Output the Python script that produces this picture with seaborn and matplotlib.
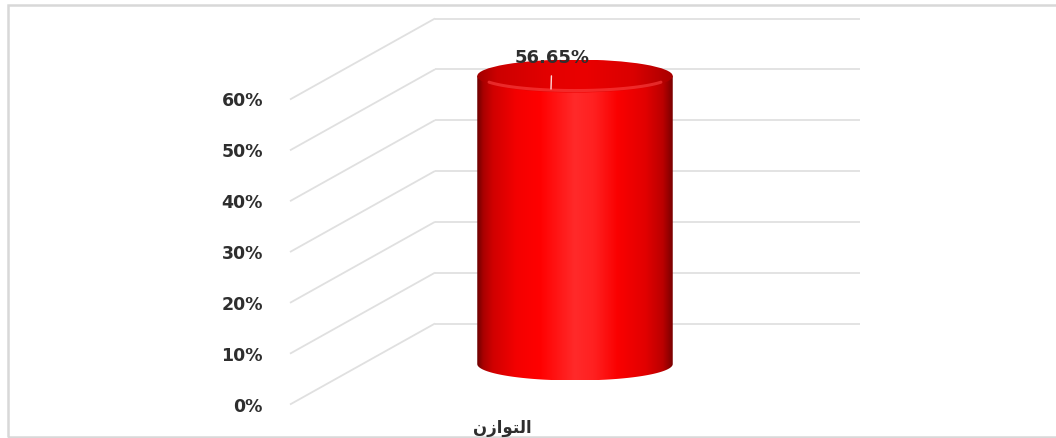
import numpy as np
import matplotlib
matplotlib.use("Agg")
import matplotlib.pyplot as plt
import matplotlib.transforms as mtransforms
from matplotlib.patches import PathPatch, Ellipse, Rectangle
from matplotlib.path import Path
from matplotlib.colors import LinearSegmentedColormap
import seaborn as sns

# ---------------- data ----------------
categories = ["التوازن"]
values = [0.5665]
tick_values = [0.0, 0.1, 0.2, 0.3, 0.4, 0.5, 0.6]
tick_labels = ["0%", "10%", "20%", "30%", "40%", "50%", "60%"]


# minimal Arabic shaping so matplotlib shows the joined, right-to-left word
_FORMS = {  # isolated, final, initial, medial
    "ا": ("\uFE8D", "\uFE8E", None, None),
    "ل": ("\uFEDD", "\uFEDE", "\uFEDF", "\uFEE0"),
    "ت": ("\uFE95", "\uFE96", "\uFE97", "\uFE98"),
    "و": ("\uFEED", "\uFEEE", None, None),
    "ز": ("\uFEAF", "\uFEB0", None, None),
    "ن": ("\uFEE5", "\uFEE6", "\uFEE7", "\uFEE8"),
}


def shape_arabic(s):
    out = []
    for i, ch in enumerate(s):
        if ch not in _FORMS:
            out.append(ch)
            continue
        prev = s[i - 1] if i > 0 else None
        nxt = s[i + 1] if i + 1 < len(s) else None
        pj = prev in _FORMS and _FORMS[prev][2] is not None
        nj = _FORMS[ch][2] is not None and nxt in _FORMS
        iso, fin, ini, med = _FORMS[ch]
        if pj and nj:
            out.append(med)
        elif pj:
            out.append(fin)
        elif nj:
            out.append(ini)
        else:
            out.append(iso)
    return "".join(out[::-1])


# ---------------- style ----------------
sns.set_style("white")
plt.rcParams["font.family"] = ["DejaVu Sans"]

W, H = 1056, 438
fig = plt.figure(figsize=(W / 100, H / 100), dpi=100)
fig.patch.set_facecolor("white")

# axes = middle depth plane of the 3-D chart (extended below 0 for the cylinder base)
ax_left, ax_right, y0_px, y60_px, ax_bottom_px = 362.5, 787.5, 364.0, 59.0, 430.0
px_x = (ax_right - ax_left) / 1.0
px_y = (y0_px - y60_px) / 0.6
ymin = -(ax_bottom_px - y0_px) / px_y
ax = fig.add_axes([ax_left / W, (H - ax_bottom_px) / H, (ax_right - ax_left) / W,
                   (ax_bottom_px - y60_px) / H])
ax.set_facecolor("none")

sns.barplot(x=categories, y=values, ax=ax, width=0.46, color="#ff0000", saturation=1)
ax.set_xlim(-0.5, 0.5)
ax.set_ylim(ymin, 0.6)
for s in ax.spines.values():
    s.set_visible(False)
ax.set_xlabel("")
ax.set_ylabel("")

DEPTH_PX_X, DEPTH_PX_Y = 72.5, 40.5
DX = DEPTH_PX_X / px_x
DY = DEPTH_PX_Y / px_y

grid_c = "#e0e0e0"
xl, xr = ax.get_xlim()
for v in tick_values:
    # back wall gridline
    ax.plot([xl + DX, xr + DX], [v + DY, v + DY], color=grid_c, lw=1.3,
            clip_on=False, zorder=0.5, solid_capstyle="butt")
    # side wall diagonal
    ax.plot([xl - DX, xl + DX], [v - DY, v + DY], color=grid_c, lw=1.3,
            clip_on=False, zorder=0.5, solid_capstyle="butt")

# ticks (front plane)
ax.set_yticks(tick_values)
ax.set_yticklabels(tick_labels)
ax.tick_params(axis="y", length=0, pad=(ax_left - 263) * 0.72, labelsize=12.5,
               labelcolor="#2e2e2e")
for lab in ax.get_yticklabels():
    lab.set_fontweight("bold")
    lab.set_transform(lab.get_transform() + mtransforms.Affine2D().translate(0, -DEPTH_PX_Y))

ax.set_xticks(range(len(categories)))
ax.set_xticklabels([shape_arabic(c) for c in categories])
ax.tick_params(axis="x", length=0, pad=0, labelsize=12, labelcolor="#2e2e2e")
for lab in ax.get_xticklabels():
    lab.set_fontweight("bold")
    lab.set_transform(lab.get_transform() +
                      mtransforms.Affine2D().translate(-DEPTH_PX_X, ax_bottom_px - 419))

# ---------------- cylinders from the seaborn bars ----------------
body_cmap = LinearSegmentedColormap.from_list("body", [
    (0.00, "#6e0000"), (0.03, "#a80000"), (0.08, "#d00000"), (0.20, "#f40000"),
    (0.32, "#ff0000"), (0.50, "#ff2a2a"), (0.60, "#ff2020"), (0.72, "#fa0000"),
    (0.86, "#e20000"), (0.95, "#bb0000"), (1.00, "#7a0000")])
cap_cmap = LinearSegmentedColormap.from_list("cap", [
    (0.00, "#a00000"), (0.10, "#cc0000"), (0.35, "#e20000"), (0.55, "#ea0000"),
    (0.80, "#da0000"), (1.00, "#a80000")])

RY = 16.5 / px_y
grad = np.linspace(0, 1, 256)[np.newaxis, :]
for p, v in zip(ax.patches, values):
    p.set_visible(False)
    x0, w, h = p.get_x(), p.get_width(), p.get_height()
    cx, rx = x0 + w / 2, w / 2
    t = np.linspace(np.pi, 2 * np.pi, 120)
    verts = np.column_stack([cx + rx * np.cos(t), RY * np.sin(t)])
    verts = np.vstack([verts, [[x0 + w, h], [x0, h], [x0, 0]]])
    body = PathPatch(Path(verts, closed=True), fc="none", ec="none", zorder=1)
    ax.add_patch(body)
    im = ax.imshow(grad, extent=[x0, x0 + w, -RY, h], aspect="auto", cmap=body_cmap,
                   interpolation="bicubic", zorder=2)
    im.set_clip_path(body)

    cap = Ellipse((cx, h), w, 2 * RY, fc="none", ec="none", zorder=1)
    ax.add_patch(cap)
    im2 = ax.imshow(grad, extent=[x0, x0 + w, h - RY, h + RY], aspect="auto", cmap=cap_cmap,
                    interpolation="bicubic", zorder=3)
    im2.set_clip_path(cap)
    # soft light front rim of the cap
    tt = np.linspace(np.radians(205), np.radians(335), 80)
    ax.plot(cx + rx * 0.97 * np.cos(tt), h + RY * 0.88 * np.sin(tt), color="#ff4545",
            lw=2.2, alpha=0.6, zorder=4, clip_on=False)

    ax.annotate(f"{v * 100:.2f}%", xy=(cx - 24 / px_x, h - 13 / px_y), xycoords="data",
                xytext=(1, 31), textcoords="offset pixels", ha="center", va="center",
                fontsize=13, fontweight="bold", color="#2e2e2e", zorder=6,
                annotation_clip=False,
                arrowprops=dict(arrowstyle="-", color="#ffd6d6", lw=1.0,
                                shrinkA=4, shrinkB=0))

ax.set_xlim(-0.5, 0.5)
ax.set_ylim(ymin, 0.6)

# chart area border
fig.add_artist(Rectangle((8 / W, 1 - 437 / H), 1.2, (437 - 5) / H, transform=fig.transFigure,
                         fill=False, ec="#d8d8d8", lw=1.8, zorder=0))

fig.savefig("out.png", dpi=100, facecolor="white")
